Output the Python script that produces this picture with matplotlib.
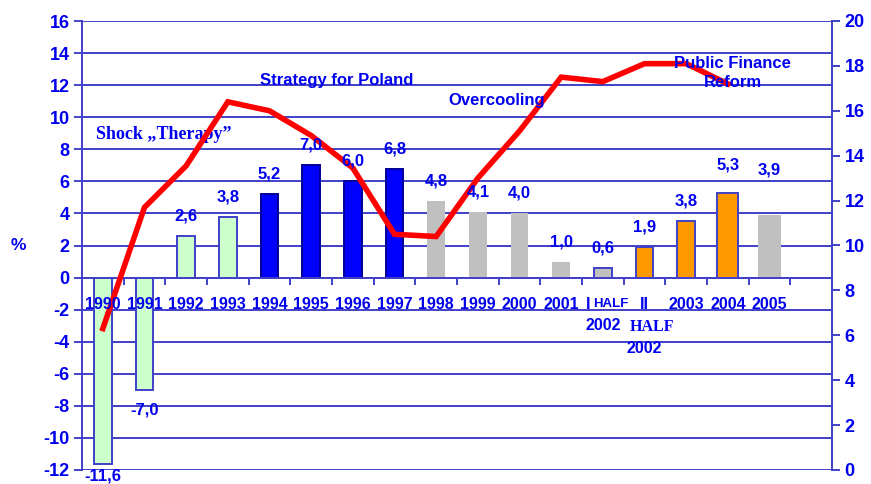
import numpy as np
import matplotlib
matplotlib.use("Agg")
import matplotlib.pyplot as plt

###########################################################################
# Data
categories = ["1990", "1991", "1992", "1993", "1994", "1995", "1996", "1997",
              "1998", "1999", "2000", "2001", "I HALF 2002", "II HALF 2002",
              "2003", "2004", "2005"]
# GDP growth (bars, left axis %)
gdp_values = [-11.6, -7.0, 2.6, 3.8, 5.2, 7.0, 6.0, 6.8,
              4.8, 4.1, 4.0, 1.0, 0.6, 1.9, 3.5, 5.3, 3.9]
gdp_labels = ["-11,6", "-7,0", "2,6", "3,8", "5,2", "7,0", "6,0", "6,8",
              "4,8", "4,1", "4,0", "1,0", "0,6", "1,9", "3,8", "5,3", "3,9"]
# red line (right axis), ends at 2004
line_values = [6.3, 11.7, 13.55, 16.4, 16.0, 14.9, 13.45, 10.5,
               10.4, 13.0, 15.1, 17.5, 17.3, 18.1, 18.1, 17.2]

###########################################################################
# Styles
blue_text = "#0000ee"
axis_col = "#4040c8"
green, dblue, grey, orange = "#ccffcc", "#0000ff", "#c0c0c0", "#ff9900"
bar_colors = [green] * 4 + [dblue] * 4 + [grey] * 5 + [orange] * 3 + [grey]
bar_edges = [axis_col] * 4 + ["#000099"] * 4 + ["none"] * 4 + [axis_col] * 4 + ["none"]
bar_widths = [0.42] * 15 + [0.5, 0.55]

plt.rcParams["font.family"] = ["Liberation Sans", "DejaVu Sans"]
plt.rcParams["font.weight"] = "bold"
plt.rcParams["axes.unicode_minus"] = False

fig = plt.figure(figsize=(8.71, 4.84), dpi=100)
ax = fig.add_axes([82 / 871, 14 / 484, 750 / 871, 449 / 484])
x = np.arange(len(categories))

# gridlines
for v in range(-12, 17, 2):
    ax.axhline(v, color=axis_col, lw=1.4, zorder=1)

ax.bar(x, gdp_values, width=bar_widths, color=bar_colors,
       edgecolor=bar_edges, linewidth=1.4, zorder=2)

ax.set_xlim(-0.5, 17.5)
ax.set_ylim(-12, 16)
ax.set_yticks(range(-12, 17, 2))
ax.tick_params(axis="y", colors=axis_col, labelcolor=blue_text, labelsize=13,
               length=6, width=1.4, direction="out", pad=3)
ax.set_xticks(np.arange(0.5, 17, 1))
ax.set_xticklabels([])
ax.tick_params(axis="x", colors=axis_col, length=5, width=1.4, direction="out")
ax.spines["bottom"].set_position(("data", 0))
for s in ["top", "right"]:
    ax.spines[s].set_visible(False)
ax.spines["left"].set_color(axis_col)
ax.spines["left"].set_linewidth(1.4)
ax.spines["bottom"].set_color(axis_col)
ax.spines["bottom"].set_linewidth(1.4)

# right axis + red line
ax2 = ax.twinx()
ax2.set_ylim(0, 20)
ax2.set_yticks(range(0, 21, 2))
ax2.tick_params(axis="y", colors=axis_col, labelcolor=blue_text, labelsize=13,
                length=6, width=1.4, pad=3)
for s in ["top", "left", "bottom"]:
    ax2.spines[s].set_visible(False)
ax2.spines["right"].set_color(axis_col)
ax2.spines["right"].set_linewidth(1.4)
ax2.plot(x[:len(line_values)], line_values, color="#ff0000", lw=4.0, zorder=3,
         solid_joinstyle="miter")

# category labels
lab_y = -1.65
cat_fs = 11.5
for i, c in enumerate(categories[:12] + categories[14:]):
    xi = i if i < 12 else i + 2
    ax2.text(xi, lab_y, c, transform=ax.transData, ha="center", va="center",
             color=blue_text, fontsize=cat_fs, zorder=5)
ax2.text(11.65, lab_y, "I", transform=ax.transData, ha="center", va="center",
         color=blue_text, fontsize=cat_fs, zorder=5)
ax2.text(11.76, lab_y, "HALF", transform=ax.transData, ha="left", va="center",
         color=blue_text, fontsize=9.5, zorder=5)
ax2.text(12.0, -3.0, "2002", transform=ax.transData, ha="center", va="center",
         color=blue_text, fontsize=cat_fs, zorder=5)
ax2.text(13.0, lab_y, "II", transform=ax.transData, ha="center", va="center",
         color=blue_text, fontsize=cat_fs, zorder=5)
ax2.text(13.17, -3.1, "HALF", transform=ax.transData, ha="center", va="center",
         color=blue_text, fontsize=11.5, family="Liberation Serif", zorder=5)
ax2.text(13.0, -4.4, "2002", transform=ax.transData, ha="center", va="center",
         color=blue_text, fontsize=cat_fs, zorder=5)

# value labels
extra = {15: 8, 16: 25}
for i, (v, t) in enumerate(zip(gdp_values, gdp_labels)):
    off = 20 + extra.get(i, 0)
    if i == 0:
        off = 12
    dy = off * 0.72 if v >= 0 else -off * 0.72
    ax2.annotate(t, xy=(i, v), xycoords=ax.transData, xytext=(0, dy),
                 textcoords="offset points", ha="center", va="center",
                 color=blue_text, fontsize=12, zorder=5, annotation_clip=False)

# annotations
ax.text(1.45, 8.9, "Shock \u201eTherapy\u201d",
        ha="center", va="center", color=blue_text, fontsize=13,
        family="Liberation Serif", zorder=4)
ax2.text(5.61, 12.3, "Strategy for Poland", transform=ax.transData, ha="center",
         va="center", color=blue_text, fontsize=12, zorder=5)
ax2.text(9.45, 11.07, "Overcooling", transform=ax.transData, ha="center",
         va="center", color=blue_text, fontsize=12, zorder=5)
ax2.text(15.12, 12.75, "Public Finance\nReform", transform=ax.transData,
         ha="center", va="center", color=blue_text, fontsize=12,
         linespacing=1.3, zorder=5)

fig.text(18 / 871, 1 - 245 / 484, "%", ha="center", va="center",
         color=blue_text, fontsize=12.5)

fig.savefig("out.png", dpi=100)
